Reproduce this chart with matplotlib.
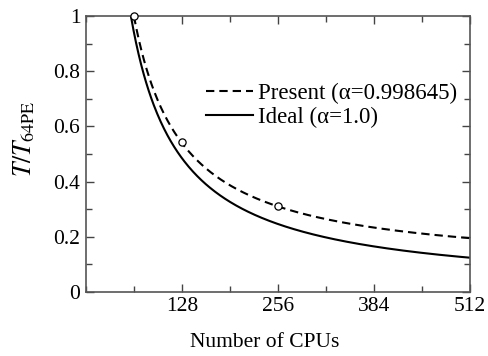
import numpy as np
import matplotlib
matplotlib.use("Agg")
import matplotlib.pyplot as plt
from matplotlib.ticker import MultipleLocator

plt.rcParams["font.family"] = ["Liberation Serif", "DejaVu Serif"]
plt.rcParams["mathtext.fontset"] = "stix"

# Parallel fraction from the fit, and the measured runs
ALPHA = 0.998645
N_BASE = 64
IDEAL_SHIFT = 4          # ideal curve is drawn slightly to the left
cpus_measured = [64, 128, 256]
t_measured = [1.0, 0.545, 0.31]


def amdahl(n, alpha):
    return ((1 - alpha) + alpha / n) / ((1 - alpha) + alpha / N_BASE)


n_present = np.linspace(N_BASE, 512, 400)
n_ideal = np.linspace(N_BASE - IDEAL_SHIFT, 512, 400)

fig = plt.figure(figsize=(4.88, 3.56), dpi=100)
ax = fig.add_axes([0.176, 0.180, 0.787, 0.775])

ax.plot(n_present, amdahl(n_present, ALPHA), color="black", lw=1.5,
        ls=(0, (4.0, 2.4)), label="Present (\u03b1=0.998645)")
ax.plot(n_ideal, amdahl(n_ideal + IDEAL_SHIFT, 1.0), color="black", lw=1.5,
        label="Ideal (\u03b1=1.0)")
ax.plot(cpus_measured, t_measured, ls="none", marker="o", ms=5.2,
        mfc="white", mec="black", mew=0.9, clip_on=False, zorder=5)

ax.set_xlim(0, 512)
ax.set_ylim(0, 1)
ax.xaxis.set_major_locator(MultipleLocator(128))
ax.xaxis.set_minor_locator(MultipleLocator(64))
ax.yaxis.set_major_locator(MultipleLocator(0.2))
ax.yaxis.set_minor_locator(MultipleLocator(0.1))
ax.set_xticks([128, 256, 384, 512])
ax.set_yticks([0, 0.2, 0.4, 0.6, 0.8, 1.0])
ax.set_yticklabels(["0", "0.2", "0.4", "0.6", "0.8", "1"])

ax.tick_params(which="both", direction="in", top=True, right=True,
               colors="#444444", labelcolor="black", labelsize=15.5, pad=4)
ax.tick_params(which="major", length=6, width=1)
ax.tick_params(which="minor", length=4, width=1)
for s in ax.spines.values():
    s.set_color("#555555")
    s.set_linewidth(1.2)

ax.set_xlabel("Number of CPUs", fontsize=15.5)
ax.xaxis.set_label_coords(0.465, -0.15)
ax.set_ylabel(r"$T/T_{\mathrm{64PE}}$", fontsize=18.5)
ax.yaxis.set_label_coords(-0.127, 0.554)

ax.legend(loc="upper left", bbox_to_anchor=(0.282, 0.80), frameon=False,
          fontsize=16.5, handlelength=2.05, handletextpad=0.22,
          labelspacing=0.12, borderpad=0)

fig.savefig("out.png", dpi=100)
